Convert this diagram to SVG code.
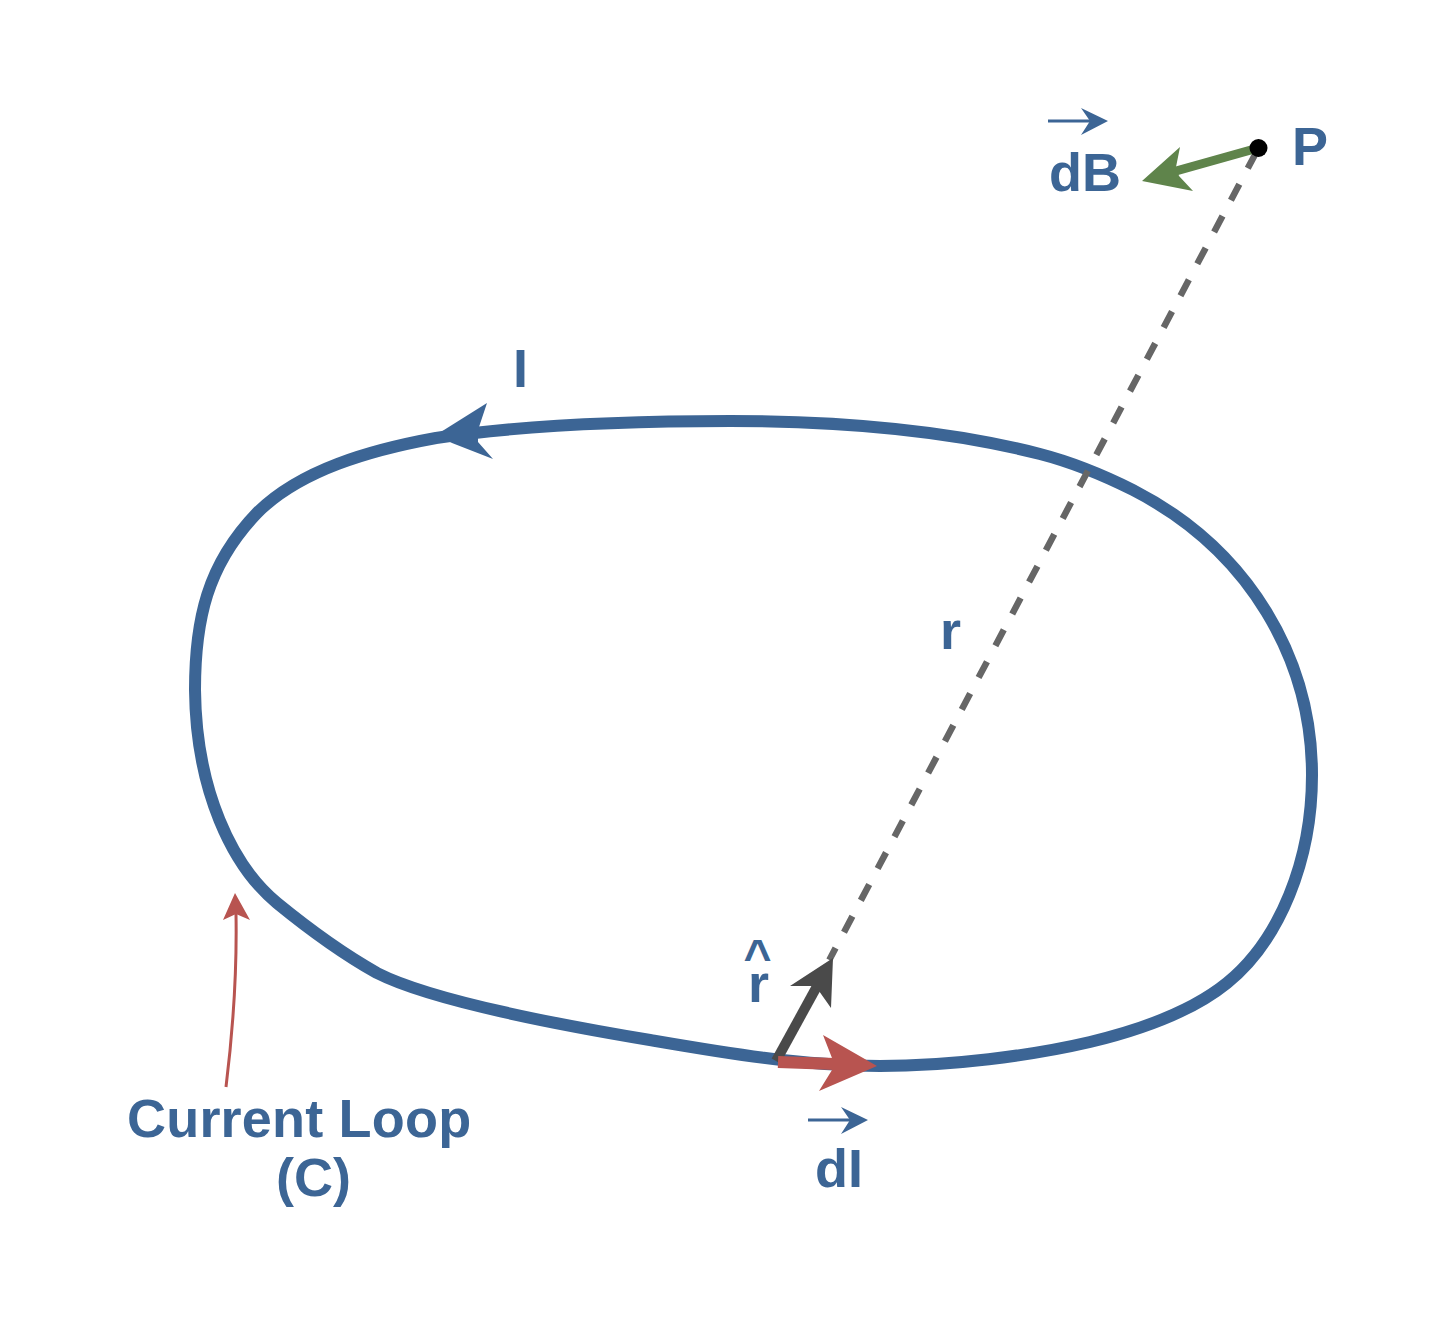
<svg xmlns="http://www.w3.org/2000/svg" width="1446" height="1323" viewBox="0 0 1446 1323">
<style>
text{font-family:"Liberation Sans",Arial,sans-serif;font-weight:700;font-size:54px;fill:#3c6595}
.blue{fill:#3c6595}.red{fill:#b85450}.green{fill:#5f844b}.dark{fill:#4a4a4a}
</style>
<rect width="1446" height="1323" fill="#fff"/>
<g id="connectors">
<path id="loop" d="M436 438C530 424 640 421 730 421C840 421 950 431 1040 454C1075 463 1105 476 1133 490C1250 550 1312 660 1312 775C1312 860 1280 940 1227 983C1190 1013 1140 1030 1090 1042C1030 1056 950 1066 880 1066C800 1066 720 1052 650 1040C560 1025 430 1000 377 973C345 955 310 930 277 903C232 866 196 790 195 690C195 620 207 565 257 513C300 470 370 450 436 438Z" fill="none" stroke="#3c6595" stroke-width="12"/>
<polygon class="blue" points="436,435 487,403 478,430 478,442 493,459 452,443"/>
<line id="r-line" x1="1258.5" y1="148" x2="829.3" y2="960" stroke="#666" stroke-width="6.5" stroke-dasharray="18 18" stroke-dashoffset="31"/>
<line x1="1258" y1="148" x2="1176" y2="171" stroke="#5f844b" stroke-width="9"/>
<polygon class="green" points="1142,181 1180,147 1176,167 1179,176 1193,191"/>
<line x1="776" y1="1061" x2="821" y2="979" stroke="#4a4a4a" stroke-width="10"/>
<polygon class="dark" points="833,958 790,986 811,986 819,991 831,1008"/>
<line x1="778" y1="1062" x2="835" y2="1064" stroke="#b85450" stroke-width="12"/>
<polygon class="red" points="877,1066 823,1035 832,1058 832,1070 819,1091"/>
<path d="M226 1087C233 1030 237 970 236 914" fill="none" stroke="#b85450" stroke-width="3"/>
<polygon class="red" points="235,893 223,920 236,914 250,920"/>
<line x1="1048" y1="121" x2="1090" y2="121" stroke="#3c6595" stroke-width="3"/>
<polygon class="blue" points="1108,121 1081,108 1090,121 1081,135"/>
<line x1="808" y1="1120" x2="850" y2="1120" stroke="#3c6595" stroke-width="3"/>
<polygon class="blue" points="868,1120 841,1107 850,1120 841,1134"/>
</g>
<g id="point-P"><circle cx="1258.5" cy="148" r="9" fill="#000"/><text x="1292" y="165">P</text></g>
<g id="label-dB"><text x="1049" y="191">dB</text></g>
<g id="label-I"><text x="513" y="387">I</text></g>
<g id="label-r"><text x="940" y="649">r</text></g>
<g id="label-rhat"><text x="743.5" y="973" style="font-size:48px">^</text><text x="748" y="1002">r</text></g>
<g id="label-dl"><text x="815" y="1187">dI</text></g>
<g id="label-loop"><text x="127" y="1137" letter-spacing=".2">Current Loop</text><text x="276" y="1196">(C)</text></g>
</svg>
